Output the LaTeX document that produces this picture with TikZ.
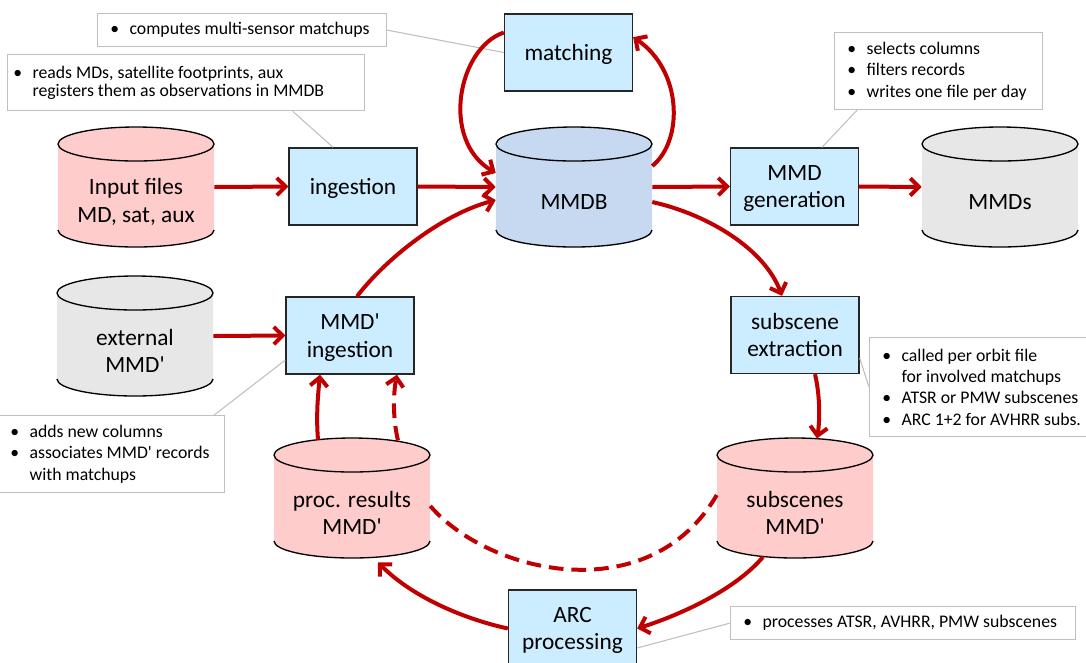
\documentclass[tikz,border=0pt]{standalone}
\usepackage{fontspec}
\setmainfont{Carlito}
\usetikzlibrary{arrows.meta}
\definecolor{boxblue}{HTML}{CCECFF}
\definecolor{pinkdb}{HTML}{FFCCCC}
\definecolor{bluedb}{HTML}{C6D9F1}
\definecolor{graydb}{HTML}{E7E7E7}
\definecolor{myred}{HTML}{C00000}
\definecolor{callgray}{HTML}{BFBFBF}
\newcommand\ap{\textquotesingle}
\newcommand\bl{\makebox[14.5pt][l]{\textbullet}}
\newcommand\ct{\hspace*{14.5pt}}
\newcommand\dbcyl[5]{%
  \path[fill=#4] (#2,#3) ++(-58.5pt,32.25pt) -- ++(0pt,-64.5pt)
     arc[start angle=180,end angle=360,x radius=58.5pt,y radius=12.75pt]
     -- ++(0pt,64.5pt)
     arc[start angle=0,end angle=180,x radius=58.5pt,y radius=12.75pt] -- cycle;
  \draw[cylline] (#2,#3) ++(0pt,32.25pt) ellipse[x radius=58.5pt,y radius=12.75pt];
  \draw[cylline] (#2,#3) ++(-58.5pt,-32.25pt) arc[start angle=180,end angle=360,x radius=58.5pt,y radius=12.75pt];
  \node[cylbox] (#1) at (#2,#3) {};
  \node[lab] (#1-t) at ([yshift=-11.25pt]#1.center) {#5};
}
\tikzset{
  lab/.style={align=center, inner sep=0pt, font=\fontsize{17.5}{20.5}\selectfont},
  cylbox/.style={rectangle, minimum width=117pt, minimum height=90pt, inner sep=0pt},
  cylline/.style={draw=black, line width=1pt},
  proc/.style={draw=black!85, line width=1pt, fill=boxblue, minimum width=96pt,
    minimum height=57.75pt, align=center, inner sep=0pt, text depth=0pt,
    font=\fontsize{17.5}{20.5}\selectfont},
  callout/.style={draw=callgray, fill=white, line width=0.9pt, anchor=north west, inner sep=0pt},
  ctext/.style={anchor=west, align=left, inner sep=0pt, font=\fontsize{13.3}{16}\selectfont},
  cline/.style={draw=callgray, line width=0.8pt},
  arr/.style={draw=myred, line width=3pt, -{Straight Barb[length=6.5pt,width=13pt]}},
  darr/.style={arr, dash pattern=on 11pt off 6pt},
  dline/.style={draw=myred, line width=3pt, dash pattern=on 11pt off 6pt}
}
\begin{document}
\begin{tikzpicture}[x=0.75pt,y=-0.75pt]
\useasboundingbox (0,0) rectangle (1086,662);
\clip (0,0) rectangle (1086,662);

% cylinders
\dbcyl{inf}{136}{187}{pinkdb}{Input files\\MD, sat, aux}
\dbcyl{mmdb}{574}{187}{bluedb}{MMDB}
\dbcyl{mmds}{1000}{187}{graydb}{MMDs}
\dbcyl{ext}{135}{336}{graydb}{external\\MMD\ap}
\dbcyl{proc}{352}{498}{pinkdb}{proc. results\\MMD\ap}
\dbcyl{subs}{795}{498}{pinkdb}{subscenes\\MMD\ap}

% process boxes
\node[proc] (match) at (568.5,52.5) {matching};
\node[proc] (ing) at (353,186.5) {ingestion};
\node[proc] (gen) at (794.5,186.5) {MMD\\generation};
\node[proc] (ming) at (350,335.5) {MMD\ap\\ingestion};
\node[proc] (subx) at (795,335) {subscene\\extraction};
\node[proc] (arc) at (572.5,628.5) {ARC\\processing};

% callouts
\node[callout, minimum width=216.75pt, minimum height=24.75pt] (c1) at (97,13) {};
\node[ctext] (c1-t) at ([xshift=9.75pt]c1.west) {\bl computes multi-sensor matchups};
\node[callout, minimum width=267.75pt, minimum height=42pt] (c2) at (7,54) {};
\node[ctext, font=\fontsize{13.3}{13.8}\selectfont] (c2-t) at ([xshift=4.5pt]c2.west)
  {\bl reads MDs, satellite footprints, aux\\\ct registers them as observations in MMDB};
\node[callout, minimum width=156pt, minimum height=57.75pt] (c3) at (834,32) {};
\node[ctext] (c3-t) at ([xshift=9.75pt]c3.west)
  {\bl selects columns\\\bl filters records\\\bl writes one file per day};
\node[callout, minimum width=170.25pt, minimum height=57.75pt] (c4) at (-3,415) {};
\node[ctext] (c4-t) at ([xshift=9.75pt]c4.west)
  {\bl adds new columns\\\bl associates MMD\ap{} records\\\ct with matchups};
\node[callout, minimum width=173.25pt, minimum height=74.25pt] (c5) at (869,337) {};
\node[ctext] (c5-t) at ([xshift=9.75pt]c5.west)
  {\bl called per orbit file\\\ct for involved matchups\\\bl ATSR or PMW subscenes\\\bl ARC 1+2 for AVHRR subs.};
\node[callout, minimum width=258.75pt, minimum height=24.75pt] (c6) at (730,606) {};
\node[ctext] (c6-t) at ([xshift=9.75pt]c6.west) {\bl processes ATSR, AVHRR, PMW subscenes};

% callout lines
\draw[cline] (c1.east) -- (match.west);
\draw[cline] ([xshift=79.9pt]c2.south) -- ([xshift=-15pt]ing.north);
\draw[cline] ([xshift=17.25pt]c3.south west) -- ([xshift=20.6pt]gen.north);
\draw[cline] ([xshift=-8.25pt]c4.north east) -- ([yshift=-18.4pt]ming.west);
\draw[cline] ([yshift=-17.25pt]subx.east) -- (c5.west);
\draw[cline] (c6.west) -- ([yshift=-14.6pt]arc.east);

% straight connectors
\draw[arr] (inf.east) -- (ing.west);
\draw[arr] (ing.east) -- (mmdb.west);
\draw[arr] (mmdb.east) -- (gen.west);
\draw[arr] (gen.east) -- (mmds.west);
\draw[arr] (ext.east) -- (ming.west);

% curved connectors
\draw[arr] ([yshift=15.75pt]mmdb.east) .. controls (684,140) and (682,70) .. ([yshift=11.5pt]match.east);
\draw[arr] ([yshift=15pt]match.west) .. controls (458,48) and (440,140) .. ([yshift=10.5pt]mmdb.west);
\draw[arr] ([xshift=5.25pt]ming.north) .. controls (385,260) and (440,215) .. ([yshift=-9.75pt]mmdb.west);
\draw[arr] ([yshift=-11.25pt]mmdb.east) .. controls (710,215) and (765,250) .. ([xshift=-9.75pt]subx.north);
\draw[arr] ([xshift=15pt]subx.south) .. controls (820,395) and (820,420) .. ([xshift=16.5pt,yshift=-0.5pt]subs.north);
\draw[arr] ([xshift=-24pt,yshift=1pt]subs.south) .. controls (735,590) and (680,615) .. (arc.east);
\draw[arr] (arc.west) .. controls (460,618) and (410,595) .. ([xshift=19.5pt,yshift=-3pt]proc.south);
\draw[arr] ([xshift=-25.5pt,yshift=-1.5pt]proc.north) .. controls (316,415) and (318,395) .. ([xshift=-22.5pt]ming.south);
\draw[darr] ([xshift=34.5pt,yshift=-2pt]proc.north) .. controls (393,420) and (393,395) .. ([xshift=35.25pt]ming.south);
\draw[dline] ([yshift=-6pt]proc.east) .. controls (490,575) and (650,610) .. ([yshift=2.25pt]subs.west);
\end{tikzpicture}
\end{document}
